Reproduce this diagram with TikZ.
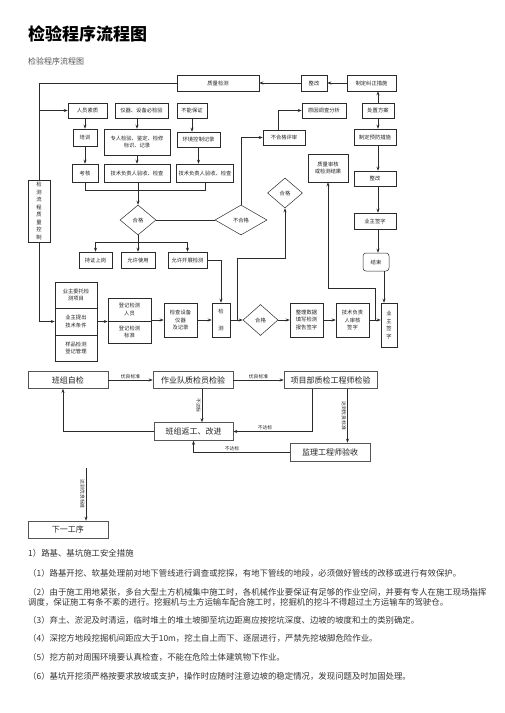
\documentclass[tikz,border=0pt]{standalone}
\usepackage{fontspec}
\setmainfont{Noto Sans CJK SC}
\usetikzlibrary{arrows.meta, shapes.geometric}
\definecolor{ink}{HTML}{222222}
\definecolor{line}{HTML}{2B2B2B}
\definecolor{body}{HTML}{333333}
\definecolor{sub}{HTML}{555555}
\tikzset{
  box/.style={draw=line, line width=0.5pt, inner sep=0pt, align=center,
              font=\fontsize{5.3}{7.5}\selectfont, text=ink},
  dbox/.style={diamond, draw=line, line width=0.5pt, inner sep=0pt,
               font=\fontsize{5.3}{7}\selectfont, text=ink},
  bbox/.style={draw=sub, line width=0.6pt, inner sep=0pt,
               font=\fontsize{8}{9}\selectfont, text=ink},
  fl/.style={-{Stealth[length=4pt, width=3pt]}, line width=0.6pt, draw=line},
  ln/.style={line width=0.6pt, draw=line},
  lab/.style={font=\fontsize{4.8}{5}\selectfont, text=ink, inner sep=1pt},
  vlab/.style={lab, rotate=-90, below},
  para/.style={anchor=base west, inner sep=0pt, font=\fontsize{8.4}{10}\selectfont, text=body},
}
\begin{document}
\begin{tikzpicture}[x=1pt, y=-1pt]
  \useasboundingbox (0,0) rectangle (504,713);

  % heading
  \node[anchor=base west, inner sep=0pt, font=\fontsize{17}{20}\selectfont\bfseries, text=black]
    (title) at (28,40.5) {检验程序流程图};
  \node[anchor=base west, inner sep=0pt, font=\fontsize{8}{9}\selectfont, text=sub]
    (subtitle) at (28,64) {检验程序流程图};

  % upper flow
  \node[box, minimum width=82pt, minimum height=16pt] (zljc) at (218,83) {质量检测};
  \node[box, minimum width=26pt, minimum height=16pt] (zg1) at (314,83) {整改};
  \node[box, minimum width=49pt, minimum height=16pt] (jzcs) at (371.5,83) {制定纠正措施};
  \node[box, minimum width=39pt, minimum height=15pt] (rysz) at (87.5,110.5) {人员素质};
  \node[box, minimum width=53pt, minimum height=15pt] (yqsb) at (141.5,110.5) {仪器、设备必检验};
  \node[box, minimum width=30pt, minimum height=15pt] (bnbz) at (192,110.5) {不能保证};
  \node[box, minimum width=24pt, minimum height=17pt] (px) at (85,137.5) {培训};
  \node[box, minimum width=66pt, minimum height=26pt] (zrjy) at (137,142) {专人检验、鉴定、检修\\标识、记录};
  \node[box, minimum width=43pt, minimum height=15pt] (hjkz) at (198.5,139.5) {环境控制记录};
  \node[box, minimum width=26pt, minimum height=18pt] (kh) at (85,173) {考核};
  \node[box, minimum width=66pt, minimum height=18pt] (jsfz1) at (137,173) {技术负责人验收、检查};
  \node[box, minimum width=57pt, minimum height=18pt] (jsfz2) at (205,173) {技术负责人验收、检查};
  \node[box, minimum width=22pt, minimum height=62pt] (vbox) at (39,211)
    {检\\测\\流\\程\\质\\量\\控\\制};
  \node[dbox, minimum width=36pt, minimum height=30pt] (hg1) at (138,220) {合格};
  \node[dbox, minimum width=52pt, minimum height=30pt] (bhg) at (241,220) {不合格};
  \node[box, minimum width=33pt, minimum height=16pt] (czsg) at (95.5,260) {持证上岗};
  \node[box, minimum width=34pt, minimum height=16pt] (yxsy) at (138,260) {允许使用};
  \node[box, minimum width=39pt, minimum height=16pt] (yxkz) at (187.5,260) {允许开展检测};

  \node[box, minimum width=44pt, minimum height=15pt] (yydc) at (324,110.5) {原因调查分析};
  \node[box, minimum width=32pt, minimum height=15pt] (czfa) at (378,110.5) {处置方案};
  \node[box, minimum width=42pt, minimum height=15pt] (bhgps) at (284,137.5) {不合格评审};
  \node[box, minimum width=42pt, minimum height=16pt] (yfcs) at (375,137) {制定预防措施};
  \node[box, minimum width=40pt, minimum height=28pt] (zlsh) at (328,168) {质量审核\\或检测结果};
  \node[dbox, minimum width=35pt, minimum height=30pt] (hg2) at (285,193) {合格};
  \node[box, minimum width=42pt, minimum height=15pt] (zg2) at (375,178.5) {整改};
  \node[box, minimum width=42pt, minimum height=16pt] (yzqz1) at (375,221) {业主签字};
  \node[box, rounded corners=3pt, minimum width=26pt, minimum height=18pt] (js) at (376,262) {结束};

  \node[box, minimum width=42pt, minimum height=26.5pt] (wt1) at (76,295) {业主委托检\\测项目};
  \node[box, minimum width=42pt, minimum height=26.5pt] (wt2) at (76,321.5) {业主提出\\技术条件};
  \node[box, minimum width=42pt, minimum height=26.5pt] (wt3) at (76,348) {样品检测\\登记管理};
  \node[box, minimum width=43pt, minimum height=23pt] (dj1) at (129.5,309.5) {登记检测\\人员};
  \node[box, minimum width=43pt, minimum height=22pt] (dj2) at (129.5,332) {登记检测\\标准};
  \node[box, minimum width=33pt, minimum height=34pt] (jcsb) at (180.5,320) {检查设备\\仪器\\及记录};
  \node[box, minimum width=18pt, minimum height=34pt] (jc) at (221,320) {检\\[9pt]测};
  \node[dbox, minimum width=35pt, minimum height=31pt] (hg3) at (260.5,320) {合格};
  \node[box, minimum width=33pt, minimum height=34pt] (zlsj) at (306.5,320) {整理数据\\填写检测\\报告签字};
  \node[box, minimum width=33pt, minimum height=34pt] (jsfzsh) at (352.5,320) {技术负责\\人审核\\签字};
  \node[box, minimum width=16pt, minimum height=44pt] (yzqz2) at (389,325) {业\\主\\签\\字};
  \coordinate (j1) at (237,320);
  \coordinate (k1) at (237,258);
  \coordinate (j2) at (375,320);
  \coordinate (k2) at (375,288);

  \draw[fl] (zg1.west) -- (zljc.east);
  \draw[fl] (jzcs.west) -- (zg1.east);
  \draw[ln] (zljc.west) -| (vbox.north);
  \draw[fl] (rysz.west -| vbox.north) -- (rysz.west);
  \draw[fl] (px.north |- rysz.south) -- (px.north);
  \draw[fl] (px.south) -- (kh.north);
  \draw[fl] (zrjy.north |- yqsb.south) -- (zrjy.north);
  \draw[fl] (zrjy.south) -- (jsfz1.north);
  \draw[fl] (bnbz.south) -- (bnbz.south |- hjkz.north);
  \draw[fl] (hjkz.south) -- (hjkz.south |- jsfz2.north);
  \draw[ln] (kh.south) -- ++(0,8) -| (jsfz2.south);
  \draw[fl] (jsfz1.south -| hg1.north) -- (hg1.north);
  \draw[ln] (hg1.east) -- (bhg.west);
  \draw[ln] (hg1.south) -- ++(0,7) coordinate (m1);
  \draw[fl] (m1) -| (czsg.north);
  \draw[fl] (m1) -- (yxsy.north);
  \draw[fl] (m1) -| (yxkz.north);
  \draw[fl] (bhg.north) |- (bhgps.west);
  \draw[fl] ([xshift=-6pt]bhgps.north) |- (yydc.west);
  \draw[fl] (czfa.north) -- (czfa.north |- jzcs.south);
  \draw[fl] (czfa.south) -- (czfa.south |- yfcs.north);
  \draw[fl] (czfa.south |- yfcs.south) -- (czfa.south |- zg2.north);
  \draw[fl] (czfa.south |- zg2.south) -- (czfa.south |- yzqz1.north);
  \draw[fl] (czfa.south |- yzqz1.south) -- (js.north -| czfa.south);
  \draw[fl] ([xshift=8pt]js.south) -- ([xshift=8pt]js.south |- yzqz2.north);
  \draw[fl] (vbox.south) |- (wt2.west);
  \draw[fl] (wt2.east) -- (wt2.east -| dj1.west);
  \draw[fl] (jcsb.west -| dj1.east) -- (jcsb.west);
  \draw[fl] (jcsb.east) -- (jc.west);
  \draw[fl] (yxkz.east) -| (jc.north);
  \draw[fl] (jc.east) -- (hg3.west);
  \draw[fl] (j1) -- (k1) -| (hg2.south);
  \draw[fl] (hg3.east) -- (zlsj.west);
  \draw[fl] (zlsj.east) -- (jsfzsh.west);
  \draw[fl] (jsfzsh.east) -- (jsfzsh.east -| yzqz2.west);
  \draw[fl] (j2) -- (k2) -| (zlsh.south);

  % lower flow
  \node[bbox, minimum width=80pt, minimum height=17pt] (bzzj) at (68,380) {班组自检};
  \node[bbox, minimum width=80pt, minimum height=17pt] (zyd) at (193,380) {作业队质检员检验};
  \node[bbox, minimum width=93pt, minimum height=17pt] (xmb) at (330.5,380) {项目部质检工程师检验};
  \node[bbox, minimum width=79pt, minimum height=18pt] (bzfg) at (193.5,431.5) {班组返工、改进};
  \node[bbox, minimum width=80pt, minimum height=18pt] (jlys) at (330,452) {监理工程师验收};
  \node[bbox, minimum width=80pt, minimum height=17pt] (xygx) at (68,529.5) {下一工序};
  \coordinate (s1) at (86,468);

  \draw[fl] (bzzj.east) -- node[lab, above] {优良标准} (zyd.west);
  \draw[fl] (zyd.east) -- node[lab, above] {优良标准} (xmb.west);
  \draw[fl] ([xshift=9pt]zyd.south) -- node[vlab] {不达标} ([xshift=9pt]zyd.south |- bzfg.north);
  \draw[fl] (bzfg.west) -| ([xshift=-5pt]bzzj.south);
  \draw[fl] ([xshift=-18pt]xmb.south) |- node[lab, above, pos=0.8] {不达标} (bzfg.east);
  \draw[fl] ([xshift=17pt]xmb.south) -- node[vlab] {达到优良标准} ([xshift=17pt]xmb.south |- jlys.north);
  \draw[fl] (jlys.west) -| node[lab, above, pos=0.3] {不达标} (bzfg.south);
  \draw[fl] (s1) -- node[vlab] {达到优良标准} (s1 |- xygx.north);

  % notes
  \node[para] (p0) at (28,556) {1）路基、基坑施工安全措施};
  \node[para] (p1) at (28,576) {（1）路基开挖、软基处理前对地下管线进行调查或挖探，有地下管线的地段，必须做好管线的改移或进行有效保护。};
  \node[para] (p2) at (28,595) {（2）由于施工用地紧张，多台大型土方机械集中施工时，各机械作业要保证有足够的作业空间，并要有专人在施工现场指挥};
  \node[para] (p2b) at (28,605) {调度，保证施工有条不紊的进行。挖掘机与土方运输车配合施工时，挖掘机的挖斗不得超过土方运输车的驾驶仓。};
  \node[para] (p3) at (28,623) {（3）弃土、淤泥及时清运，临时堆土的堆土坡脚至坑边距离应按挖坑深度、边坡的坡度和土的类别确定。};
  \node[para] (p4) at (28,641) {（4）深挖方地段挖掘机间距应大于10m，挖土自上而下、逐层进行，严禁先挖坡脚危险作业。};
  \node[para] (p5) at (28,660) {（5）挖方前对周围环境要认真检查，不能在危险土体建筑物下作业。};
  \node[para] (p6) at (28,679) {（6）基坑开挖须严格按要求放坡或支护，操作时应随时注意边坡的稳定情况，发现问题及时加固处理。};
\end{tikzpicture}
\end{document}
